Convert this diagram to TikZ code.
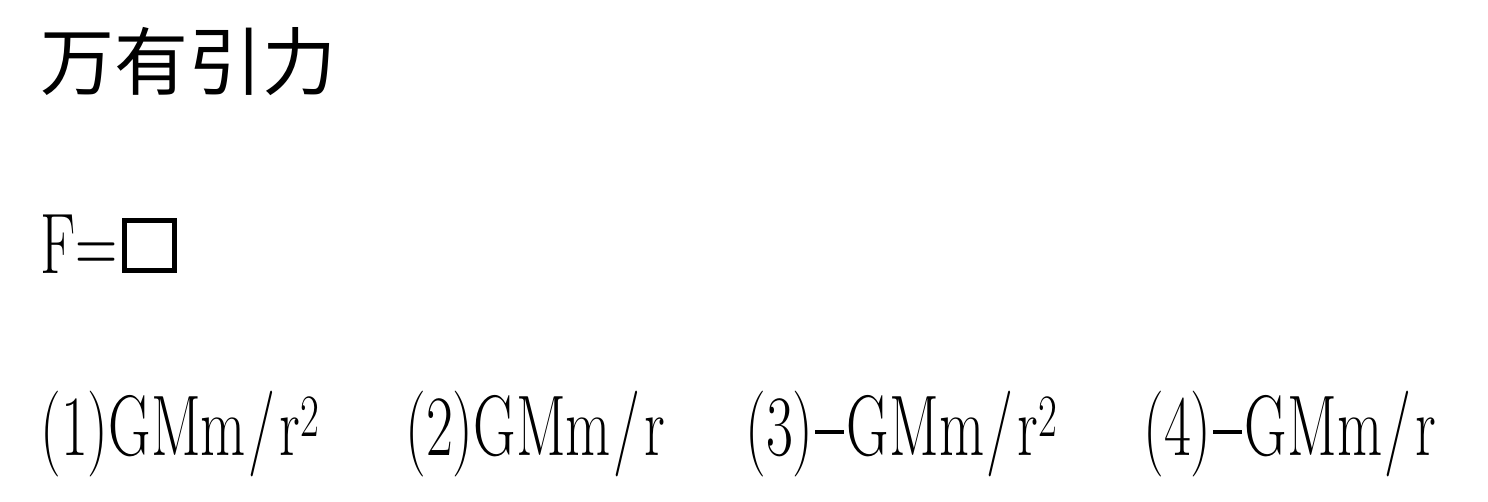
\documentclass[tikz,border=0pt]{standalone}
\usepackage{fontspec}
\usepackage{graphicx}
\newfontfamily\cjk{Noto Sans CJK SC}
\newcommand{\narrow}[1]{\scalebox{0.68}[1]{#1}}
\newcommand{\perslash}{\kern2pt/\kern3pt}
\newcommand{\negsign}{\kern1pt\rule[0.24em]{0.5em}{0.045em}\kern2pt}

\begin{document}
\begin{tikzpicture}
[x=0.5pt,y=-0.5pt,
  cjkText/.style={anchor=base west,inner sep=0pt,font=\cjk\fontsize{37}{40}\selectfont},%
  blankBox/.style={anchor=south west,draw,line width=2.4pt,minimum size=25pt,inner sep=0pt},%
  formulaText/.style={anchor=base west,inner sep=0pt,font=\fontsize{43}{46}\selectfont}]
\useasboundingbox (0,0) rectangle (1488,502);
%% title
\node (title) at (40,90) [cjkText] {万有引力};
%% question
\node (force) at (40,273) [formulaText] {\narrow{F=}};
\node (blank) at ([xshift=2pt]force.base east) [blankBox] {};
%% answer choices
\foreach \nodename/\x/\answer in {
  one/40/{(1)GMm\perslash r\textsuperscript{2}}, two/405/{(2)GMm\perslash r},
  three/745/{(3)\negsign GMm\perslash r\textsuperscript{2}}, four/1143/{(4)\negsign GMm\perslash r}}
{
  \node (\nodename) at (\x,455) [formulaText] {\narrow{\answer}};
}
\end{tikzpicture}
\end{document}
